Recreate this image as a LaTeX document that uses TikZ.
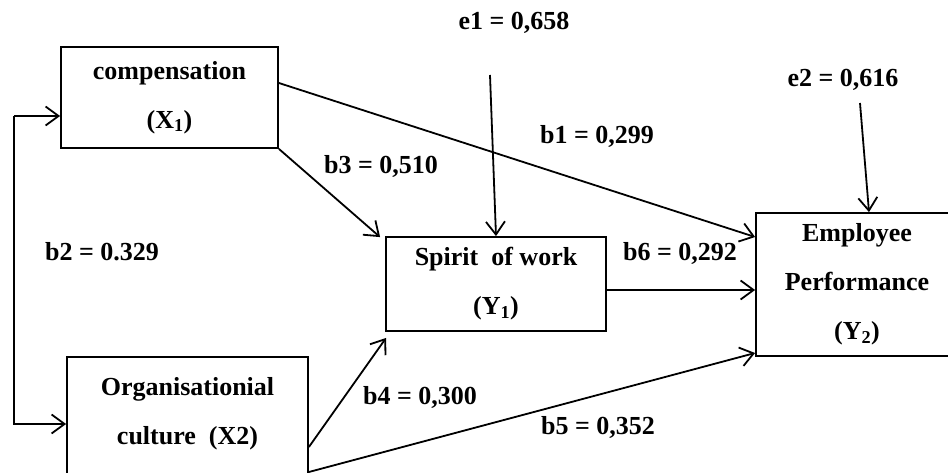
\documentclass[tikz,border=0pt]{standalone}
\usepackage{fontspec}
\setmainfont{Liberation Serif}
\usepackage{tikz}
\usetikzlibrary{arrows.meta}
\usetikzlibrary{positioning}
\usetikzlibrary{calc}
\tikzstyle{construct}=[rectangle, draw=black, line width=1.8pt, align=center, inner sep=0pt]
\tikzstyle{coef}=[inner sep=1pt]
\tikzstyle{path}=[->, line width=1.8pt]
\begin{document}
\begin{tikzpicture}[x=1pt, y=-1pt, >={Straight Barb[length=13pt,width=19pt]},
	font=\fontsize{26}{49}\selectfont\bfseries]
	\useasboundingbox (0,0) rectangle (948,473);
	% constructs
	\node (X1) at (169.5,97.5) [construct, minimum width=217pt, minimum height=101pt] {compensation\\(X\textsubscript{1})};
	\node (X2) at (187.5,435) [construct, minimum width=241pt, minimum height=156pt] {Organisationial\\culture\ \ (X2)\\\mbox{}};
	\node (Y1) at (496,284) [construct, minimum width=220pt, minimum height=94pt] {Spirit\ \ of work\\(Y\textsubscript{1})};
	\node (Y2) at (857,284.5) [construct, minimum width=202pt, minimum height=143pt] {Employee\\Performance\\(Y\textsubscript{2})};
	% error terms
	\node (e1) at (514,23) [coef] {e1 = 0,658};
	\node (e2) at (843,80) [coef] {e2 = 0,616};
	\coordinate (e1s) at (490,75);
	\coordinate (e2s) at (860,103);
	\coordinate (k) at (14,116);
	% coefficients
	\node (b1) at (597,136) [coef] {b1 = 0,299};
	\node (b2) at (102,252) [coef] {b2 = 0.329};
	\node (b3) at (381,166) [coef] {b3 = 0,510};
	\node (b4) at (420,397) [coef] {b4 = 0,300};
	\node (b5) at (598,427) [coef] {b5 = 0,352};
	\node (b6) at (680,253) [coef] {b6 = 0,292};
	% correlation X1 -- X2
	\draw[path] (k) -- (k -| X1.west);
	\draw[path] (k) |- ([yshift=11pt]X2.west);
	% paths
	\path[path]
		([yshift=14.5pt]X1.east) edge ([yshift=47.5pt]Y2.west)
		(X1.south east) edge ([xshift=-5pt, yshift=-1pt]Y1.north west)
		([yshift=-12pt]X2.east) edge ([xshift=1pt, yshift=-6pt]Y1.south west)
		([yshift=-37pt]X2.east) edge ([yshift=-68.5pt]Y2.west)
		([yshift=-6pt]Y1.east) edge ([yshift=-6pt]Y1.east -| Y2.west)
		(e1s) edge (Y1.north)
		(e2s) edge ([xshift=12pt]Y2.north);
\end{tikzpicture}
\end{document}
